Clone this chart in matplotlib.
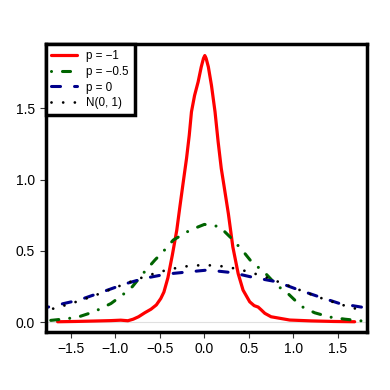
import numpy as np
import matplotlib
matplotlib.use("Agg")
from matplotlib import pyplot as plt

plt.rcParams['font.family'] = ['Liberation Sans', 'DejaVu Sans']
plt.rcParams['lines.scale_dashes'] = False

# values
red_x = [-1.65, -1.45, -1.24, -1.05, -0.94, -0.86, -0.80, -0.74, -0.67, -0.60,
         -0.54, -0.49, -0.455, -0.41, -0.36, -0.31, -0.275, -0.24, -0.20, -0.17,
         -0.145, -0.11, -0.07, -0.035, -0.01, 0.005, 0.02, 0.045, 0.08, 0.12,
         0.155, 0.19, 0.22, 0.27, 0.32, 0.38, 0.435, 0.51, 0.56, 0.605, 0.64,
         0.68, 0.75, 0.85, 0.96, 1.2, 1.45, 1.69]
red_y = [0.002, 0.004, 0.007, 0.010, 0.013, 0.009, 0.020, 0.037, 0.065, 0.090,
         0.120, 0.165, 0.210, 0.310, 0.470, 0.645, 0.810, 0.970, 1.150, 1.310,
         1.475, 1.590, 1.685, 1.790, 1.850, 1.870, 1.850, 1.790, 1.660, 1.475,
         1.264, 1.078, 0.960, 0.760, 0.528, 0.340, 0.224, 0.142, 0.115, 0.105,
         0.085, 0.061, 0.037, 0.026, 0.014, 0.008, 0.004, 0.002]

green_x = [-1.85, -1.77, -1.58, -1.43, -1.24, -1.05, -0.92, -0.81, -0.69, -0.556,
           -0.44, -0.35, -0.16, 0.0, 0.17, 0.305, 0.418, 0.53, 0.68, 0.81,
           0.94, 1.09, 1.24, 1.41, 1.58, 1.78, 1.88]
green_y = [0.006, 0.009, 0.021, 0.033, 0.072, 0.130, 0.190, 0.248, 0.340, 0.435,
           0.510, 0.575, 0.645, 0.685, 0.670, 0.587, 0.510, 0.423, 0.346, 0.260,
           0.200, 0.110, 0.065, 0.035, 0.020, 0.007, 0.005]

blue_x = [-1.85, -1.65, -1.41, -1.17, -0.90, -0.68, -0.42, -0.16, 0.04, 0.32,
          0.55, 0.81, 1.04, 1.30, 1.52, 1.88]
blue_y = [0.092, 0.120, 0.154, 0.206, 0.266, 0.306, 0.337, 0.353, 0.365, 0.346,
          0.313, 0.283, 0.230, 0.175, 0.130, 0.093]

norm_x = [-1.7, -1.6, -1.5, -1.4, -1.3, -1.2, -1.1, -1.0, -0.9, -0.8, -0.7, -0.6,
          -0.5, -0.4, -0.3, -0.2, -0.1, 0.0, 0.1, 0.2, 0.3, 0.4, 0.5, 0.6, 0.7,
          0.8, 0.9, 1.0, 1.1, 1.2, 1.3, 1.4, 1.5, 1.6, 1.7]
norm_y = [0.094, 0.111, 0.130, 0.150, 0.171, 0.194, 0.218, 0.242, 0.266, 0.290,
          0.312, 0.333, 0.352, 0.368, 0.381, 0.391, 0.397, 0.399, 0.397, 0.391,
          0.381, 0.368, 0.352, 0.333, 0.312, 0.290, 0.266, 0.242, 0.218, 0.194,
          0.171, 0.150, 0.130, 0.111, 0.094]

labels = ['p = \u22121', 'p = \u22120.5', 'p = 0', 'N(0, 1)']
xticks = [-1.5, -1.0, -0.5, 0.0, 0.5, 1.0, 1.5]
yticks = [0.0, 0.5, 1.0, 1.5]

fig = plt.figure(figsize=(3.9, 3.9), dpi=100)
ax = fig.add_axes([0.1167, 0.1487, 0.8244, 0.7385])

ax.axhline(0, color='#e0e0e0', lw=0.8, zorder=0)
ax.plot(red_x, red_y, color='red', lw=2.3, solid_capstyle='round', label=labels[0])
ax.plot(green_x, green_y, color='#006400', lw=2.2, dash_capstyle='round',
        linestyle=(0, (0.01, 7.9, 5.8, 7.9)), label=labels[1])
ax.plot(blue_x, blue_y, color='#00008b', lw=2.2, dash_capstyle='round',
        linestyle=(0, (6.5, 10.1)), label=labels[2])
ax.plot(norm_x, norm_y, color='black', lw=2.0, dash_capstyle='round',
        linestyle=(0, (0.01, 8.4)), label=labels[3])

ax.set_xlim(-1.786, 1.829)
ax.set_ylim(-0.07, 1.951)
ax.set_xticks(xticks)
ax.set_yticks(yticks)
ax.set_xticklabels([f'{v:.1f}'.replace('-', '\u2212') for v in xticks])
ax.set_yticklabels([f'{v:.1f}' for v in yticks])
ax.tick_params(direction='out', length=4, width=0.8, labelsize=10, pad=3.5, color='#333333')
for s in ax.spines.values():
    s.set_linewidth(2.5)

leg = ax.legend(loc='upper left', bbox_to_anchor=(0, 1), borderaxespad=0,
                fontsize=8.4, handlelength=2.2, handletextpad=0.8,
                labelspacing=0.33, borderpad=0.5, fancybox=False, framealpha=1)
leg.get_frame().set_edgecolor('black')
leg.get_frame().set_linewidth(2.5)

plt.savefig('out.png', dpi=100)
